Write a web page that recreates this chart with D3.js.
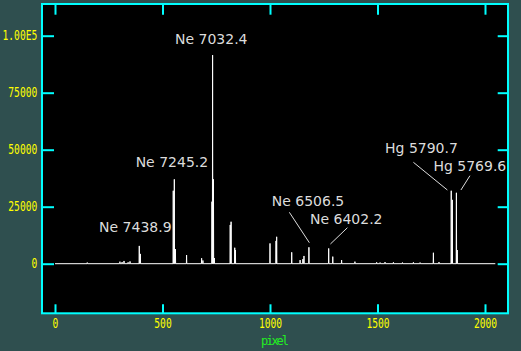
<!DOCTYPE html>
<html>
<head>
<meta charset="utf-8">
<script src="https://cdn.jsdelivr.net/npm/d3@7"></script>
<style>
  body { margin: 0; background: #2f4f4f; }
  svg { display: block; }
</style>
</head>
<body>
<div id="chart"></div>
<script>
// arc lamp spectrum: peak pixel positions and counts
const peakPixels = [150, 302, 312, 321, 340, 349, 392, 397, 550, 555, 560, 612, 682, 688,
  730, 733, 737, 741, 815, 819, 836, 839, 1000, 1028, 1031, 1101, 1140, 1153, 1158, 1181,
  1273, 1292, 1333, 1395, 1496, 1512, 1535, 1574, 1616, 1667, 1698, 1760, 1786,
  1843, 1848, 1867, 1871];
const peakCounts = [500, 900, 700, 1200, 600, 1000, 7800, 4300, 32000, 37000, 6400, 3800, 2400, 1400,
  27200, 91500, 37000, 2500, 17000, 18400, 7000, 6000, 8900, 10000, 11800, 5000, 1600, 2000, 3400, 7200,
  6700, 3100, 1600, 900, 600, 500, 700, 600, 500, 600, 500, 4800, 700,
  32000, 28000, 31100, 6000];
const pixelRange = [0, 2048];

// line identifications (text anchor in data coords)
const lineLabels = ["Ne 7032.4", "Ne 7245.2", "Ne 7438.9", "Ne 6506.5", "Ne 6402.2", "Hg 5790.7", "Hg 5769.6"];
const labelPixel = [558, 375, 205, 1008, 1186, 1535, 1760];
const labelCount = [96230, 42540, 14035, 25440, 17280, 48550, 40790];
// leader lines: [fromPixel, fromCount, toPixel, toCount]
const leaders = [
  [1090, 22540, 1183, 9210],
  [1360, 15790, 1281, 8640],
  [1667, 44470, 1825, 32320],
  [1930, 38600, 1888, 32320]
];

const xTicks = [0, 500, 1000, 1500, 2000];
const yTicks = [0, 25000, 50000, 75000, 100000];
const yTickLabels = ["0", "25000", "50000", "75000", "1.00E5"];

const width = 521, height = 351;
const frame = {left: 42, top: 4, right: 508, bottom: 313.3};

const x = d3.scaleLinear().domain([0, 2000]).range([55, 485]);
const y = d3.scaleLinear().domain([0, 100000]).range([263.7, 35.7]);

const svg = d3.select("#chart").append("svg")
  .attr("width", width)
  .attr("height", height);

svg.append("rect")
  .attr("width", width).attr("height", height)
  .attr("fill", "#2f4f4f");

svg.append("rect")
  .attr("x", frame.left).attr("y", frame.top)
  .attr("width", frame.right - frame.left)
  .attr("height", frame.bottom - frame.top)
  .attr("fill", "#000");

// spectrum
const pts = [[pixelRange[0], 0]];
peakPixels.forEach((p, i) => {
  pts.push([p - 1, 0], [p, peakCounts[i]], [p + 1, 0]);
});
pts.push([pixelRange[1], 0]);

svg.append("path")
  .datum(pts)
  .attr("fill", "none")
  .attr("stroke", "#fff")
  .attr("stroke-width", 1)
  .attr("d", d3.line().x(d => x(d[0])).y(d => y(d[1])));

// annotations
svg.append("g").selectAll("line")
  .data(leaders)
  .join("line")
  .attr("x1", d => x(d[0])).attr("y1", d => y(d[1]))
  .attr("x2", d => x(d[2])).attr("y2", d => y(d[3]))
  .attr("stroke", "#dddddd")
  .attr("stroke-width", 1);

svg.append("g").selectAll("text")
  .data(lineLabels)
  .join("text")
  .attr("x", (d, i) => x(labelPixel[i]))
  .attr("y", (d, i) => y(labelCount[i]))
  .attr("fill", "#dcdcdc")
  .style("font-family", "DejaVu Sans")
  .style("font-size", "14px")
  .text(d => d);

// axes, ticks pointing inward
function styleAxis(g) {
  g.select(".domain").remove();
  g.selectAll(".tick line").attr("stroke", "#00ffff").attr("stroke-width", 2);
  g.selectAll(".tick text")
    .attr("fill", "#ffff00")
    .style("font-family", "DejaVu Sans Mono")
    .style("font-size", "14.5px")
    .attr("lengthAdjust", "spacingAndGlyphs")
    .attr("textLength", function() { return 5.8 * this.textContent.length; });
}

svg.append("g")
  .attr("transform", `translate(${frame.left},0)`)
  .call(d3.axisLeft(y).tickValues(yTicks).tickSize(-12).tickPadding(4.7)
    .tickFormat((d, i) => yTickLabels[i]))
  .call(styleAxis)
  .call(g => g.selectAll(".tick text").attr("dy", "3.3px"));

svg.append("g")
  .attr("transform", `translate(${frame.right},0)`)
  .call(d3.axisRight(y).tickValues(yTicks).tickSize(-10.3).tickFormat(""))
  .call(styleAxis);

svg.append("g")
  .attr("transform", `translate(0,${frame.bottom})`)
  .call(d3.axisBottom(x).tickValues(xTicks).tickSize(-9).tickFormat(d3.format("d")))
  .call(styleAxis)
  .call(g => g.selectAll(".tick text").attr("y", 14.4).attr("dy", 0));

svg.append("g")
  .attr("transform", `translate(0,${frame.top})`)
  .call(d3.axisTop(x).tickValues(xTicks).tickSize(-10.7).tickFormat(""))
  .call(styleAxis);

svg.append("rect")
  .attr("x", frame.left).attr("y", frame.top)
  .attr("width", frame.right - frame.left)
  .attr("height", frame.bottom - frame.top)
  .attr("fill", "none")
  .attr("stroke", "#00ffff")
  .attr("stroke-width", 2);

svg.append("text")
  .attr("x", 261).attr("y", 345)
  .attr("fill", "#22ee22")
  .style("font-family", "DejaVu Sans Mono")
  .style("font-size", "12px")
  .attr("lengthAdjust", "spacing")
  .attr("textLength", 28)
  .text("pixel");
</script>
</body>
</html>
